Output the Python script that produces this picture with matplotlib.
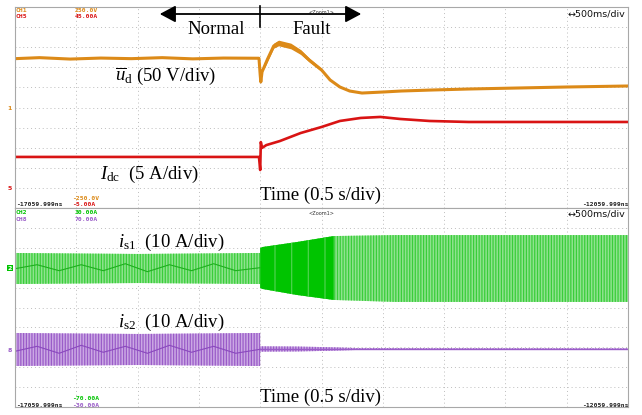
import numpy as np
import matplotlib.pyplot as plt
import matplotlib as mpl

mpl.rcParams['mathtext.fontset'] = 'custom'
mpl.rcParams['mathtext.rm'] = 'Liberation Serif'
mpl.rcParams['mathtext.it'] = 'Liberation Serif:italic'
mpl.rcParams['hatch.linewidth'] = 0.9

W, H = 642, 415

# ---- data (time in s, amplitude in screen divisions) ----
ud_t = [0, 0.2, 0.45, 0.7, 0.95, 1.2, 1.45, 1.7, 1.99, 2.0, 2.005, 2.015, 2.06,
        2.11, 2.15, 2.25, 2.33, 2.4, 2.5, 2.57, 2.65, 2.73, 2.83, 3.0, 3.15,
        3.4, 3.7, 4.1, 4.5, 5.0]
ud_v = [7.43, 7.48, 7.41, 7.46, 7.43, 7.48, 7.42, 7.46, 7.45, 6.62, 6.27, 6.77,
        7.41, 8.06, 8.21, 8.06, 7.76, 7.36, 6.87, 6.37, 6.02, 5.82, 5.72, 5.77,
        5.82, 5.87, 5.92, 5.97, 6.02, 6.07]
# thicker noisy band on the overshoot
ud_band_t = [2.03, 2.11, 2.15, 2.25, 2.33, 2.4, 2.5]
ud_band_hi = [7.2, 8.2, 8.35, 8.2, 7.88, 7.46, 6.95]
ud_band_lo = [6.9, 7.95, 8.07, 7.92, 7.64, 7.26, 6.79]

idc_t = [0, 0.7, 1.4, 1.99, 2.0, 2.005, 2.015, 2.05, 2.16, 2.33, 2.5, 2.65,
         2.82, 2.98, 3.14, 3.38, 3.7, 4.1, 4.5, 5.0]
idc_v = [2.54, 2.54, 2.54, 2.54, 1.89, 3.28, 2.99, 3.13, 3.33, 3.73, 4.03, 4.33,
         4.48, 4.53, 4.43, 4.33, 4.28, 4.28, 4.28, 4.28]

is1_t = [0, 1.0, 2.0, 2.0, 2.02, 2.3, 2.6, 3.1, 5.0]
is1_hi = [7.74, 7.69, 7.74, 7.99, 8.04, 8.29, 8.59, 8.64, 8.64]
is1_lo = [6.18, 6.23, 6.18, 5.98, 5.93, 5.63, 5.38, 5.28, 5.28]
is1_dark_t = [2.0, 2.02, 2.3, 2.6]
is1_dark_hi = [7.99, 8.04, 8.29, 8.59]
is1_dark_lo = [5.98, 5.93, 5.63, 5.38]
is1_mid_t = [0, 0.18, 0.36, 0.54, 0.72, 0.9, 1.08, 1.26, 1.44, 1.62, 1.8, 2.0]
is1_mid_v = [6.95, 7.15, 6.85, 7.15, 6.85, 7.2, 6.8, 7.15, 6.85, 7.2, 6.85, 7.0]

is2_t = [0, 1.0, 2.0, 2.0, 2.3, 2.6, 2.8, 5.0]
is2_hi = [3.72, 3.67, 3.72, 3.05, 3.04, 3.0, 2.96, 2.95]
is2_lo = [2.06, 2.11, 2.06, 2.78, 2.79, 2.83, 2.87, 2.88]
is2_mid_t = [0, 0.18, 0.36, 0.54, 0.72, 0.9, 1.08, 1.26, 1.44, 1.62, 1.8, 2.0]
is2_mid_v = [2.8, 3.05, 2.7, 3.1, 2.75, 3.05, 2.7, 3.1, 2.75, 3.05, 2.7, 2.9]

ORANGE = '#DC8A18'
RED = '#D91414'
GREEN = '#00C400'
LGREEN = '#8FE38F'
PURPLE = '#9A5CC8'
LPURPLE = '#CBA8E4'
GRID = '#BDBDBD'


def fx(x):
    return x / W


def fy(y):
    return 1 - y / H


fig = plt.figure(figsize=(W / 100, H / 100), dpi=100)
ax1 = fig.add_axes([fx(15), fy(208), (628 - 15) / W, (208 - 7) / H])
ax2 = fig.add_axes([fx(15), fy(407), (628 - 15) / W, (407 - 208) / H])

for ax in (ax1, ax2):
    ax.set_xlim(0, 5)
    ax.set_ylim(0, 10)
    ax.set_xticks([])
    ax.set_yticks([])
    for k in np.arange(0.5, 5, 0.5):
        ax.axvline(k, color=GRID, lw=0.7, ls=(0, (1, 3)), zorder=0)
    for k in range(1, 10):
        ax.axhline(k, color=GRID, lw=0.7, ls=(0, (1, 3)), zorder=0)
    for s in ax.spines.values():
        s.set_color('#A8A8A8')
        s.set_linewidth(0.8)

# top panel traces
ax1.fill_between(ud_band_t, ud_band_lo, ud_band_hi, color=ORANGE, lw=0)
ax1.plot(ud_t, ud_v, color=ORANGE, lw=2.2, solid_joinstyle='round')
ax1.plot(idc_t, idc_v, color=RED, lw=1.9, solid_joinstyle='round')

# bottom panel traces
ax2.fill_between(is1_t, is1_lo, is1_hi, facecolor=LGREEN, edgecolor='#3ACD3A',
                 hatch='||||||', lw=0)
ax2.fill_between(is1_dark_t, is1_dark_lo, is1_dark_hi, facecolor=GREEN,
                 edgecolor='#4ED24E', hatch='|', lw=0)
ax2.plot(is1_mid_t, is1_mid_v, color='#1DB01D', lw=0.8)

ax2.fill_between(is2_t, is2_lo, is2_hi, facecolor=LPURPLE, edgecolor=PURPLE,
                 hatch='||||||', lw=0)
ax2.plot(is2_mid_t, is2_mid_v, color='#8A48BE', lw=0.8)
ax2.plot([2.0, 5.0], [2.91, 2.91], color=PURPLE, lw=1.0)

# scope annotations
mono = dict(family='DejaVu Sans Mono', fontsize=4.6, fontweight='bold')
small = dict(ha='left', va='center', **mono)
fig.text(fx(16), fy(11), 'CH1', color=ORANGE, **small)
fig.text(fx(16), fy(17), 'CH5', color=RED, **small)
fig.text(fx(75), fy(11), '250.0V', color=ORANGE, **small)
fig.text(fx(75), fy(17), '45.00A', color=RED, **small)
fig.text(fx(72), fy(198), '-250.0V', color=ORANGE, **small)
fig.text(fx(72), fy(204), '-5.00A', color=RED, **small)
fig.text(fx(16), fy(204), '-17059.999ns', color='#222222', **small)
fig.text(fx(629), fy(204), '-12059.999ns', color='#222222', ha='right', va='center', **mono)
fig.text(fx(16), fy(212), 'CH2', color=GREEN, **small)
fig.text(fx(16), fy(219), 'CH8', color=PURPLE, **small)
fig.text(fx(75), fy(212), '30.00A', color=GREEN, **small)
fig.text(fx(75), fy(219), '70.00A', color=PURPLE, **small)
fig.text(fx(72), fy(398), '-70.00A', color=GREEN, **small)
fig.text(fx(72), fy(405), '-30.00A', color=PURPLE, **small)
fig.text(fx(16), fy(405), '-17059.999ns', color='#222222', **small)
fig.text(fx(629), fy(405), '-12059.999ns', color='#222222', ha='right', va='center', **mono)
for y in (14, 214):
    fig.text(fx(625), fy(y), '\u2194500ms/div', ha='right', va='center',
             fontsize=6.8, family='DejaVu Sans', color='#111111')
    fig.text(fx(322), fy(y - 1), '<Zoom1>', ha='center', va='center',
             fontsize=3.6, family='DejaVu Sans', color='#333333')

# channel markers
mk = dict(ha='center', va='center', fontsize=4.5, fontweight='bold')
fig.text(fx(10), fy(108), '1', color=ORANGE, **mk)
fig.text(fx(10), fy(188), '5', color=RED, **mk)
fig.text(fx(10), fy(268), '2', color='white',
         bbox=dict(boxstyle='square,pad=0.15', fc=GREEN, ec='none'), **mk)
fig.text(fx(10), fy(350), '8', color=PURPLE, **mk)

# Normal / Fault arrow
fig.add_artist(mpl.patches.FancyArrowPatch((fx(157), fy(14)), (fx(364), fy(14)),
               transform=fig.transFigure, arrowstyle='<|-|>,head_length=6,head_width=3.2',
               color='black', lw=1.3, mutation_scale=1.6))
fig.add_artist(mpl.lines.Line2D([fx(260), fx(260)], [fy(6), fy(27)],
               transform=fig.transFigure, color='black', lw=1.2))

serif = dict(family='Liberation Serif', fontsize=13.5, color='black', va='center')
fig.text(fx(216), fy(29), 'Normal', ha='center', **serif)
fig.text(fx(312), fy(29), 'Fault', ha='center', **serif)
fig.text(fx(115), fy(76), r'$\overline{u}_{\rm d}$ (50 V/div)', ha='left', **serif)
fig.text(fx(100), fy(174), r'$I_{\rm dc}$  (5 A/div)', ha='left', **serif)
fig.text(fx(260), fy(195), 'Time (0.5 s/div)', ha='left', **serif)
fig.text(fx(118), fy(242), r'$i_{\rm s1}$  (10 A/div)', ha='left', **serif)
fig.text(fx(118), fy(322), r'$i_{\rm s2}$  (10 A/div)', ha='left', **serif)
fig.text(fx(260), fy(397), 'Time (0.5 s/div)', ha='left', **serif)

fig.savefig('out.png', dpi=100)
